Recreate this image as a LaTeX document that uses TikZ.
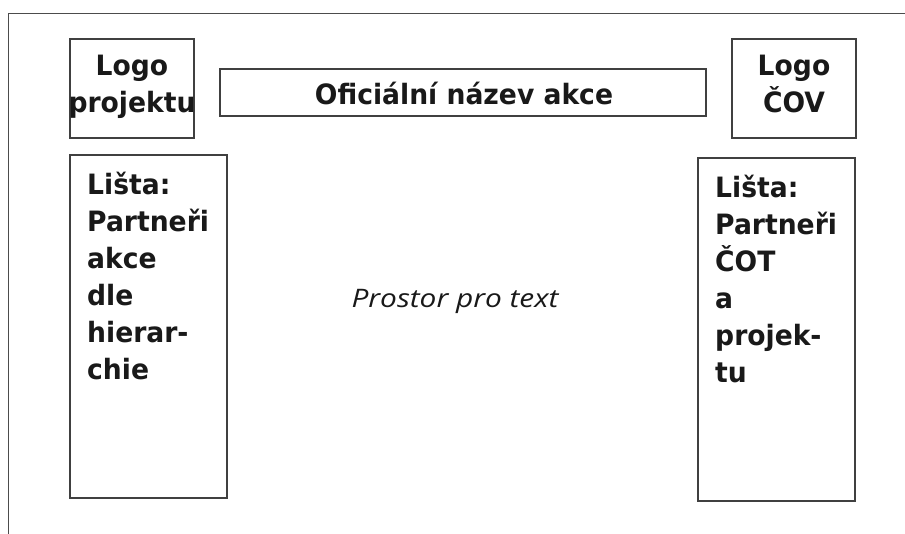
\documentclass[tikz,border=0pt]{standalone}
\usepackage{fontspec}
\setmainfont{Open Sans}
\newfontfamily\boxfont[FakeStretch=0.95]{DejaVu Sans Bold}
\newfontfamily\itfont[FakeStretch=1.17]{Open Sans Italic}
\begin{document}
\begin{tikzpicture}[x=1pt,y=-1pt,
  frame/.style={draw=black!75,line width=1.2pt},
  outer/.style={draw=black!70,line width=1pt},
  lbl/.style={inner sep=0pt,font=\boxfont\fontsize{28}{36}\selectfont,text=black!90},
  lblc/.style={lbl,anchor=base},
  lbll/.style={lbl,anchor=base west},
  itl/.style={inner sep=0pt,anchor=base,font=\itfont\fontsize{25.5}{30}\selectfont,text=black!90}]
\useasboundingbox (0,0) rectangle (905,534);
\fill[white] (0,0) rectangle (905,534);
% outer frame (only top and left visible)
\draw[outer] (8,534) -- (8,14) -- (905,14);
% boxes
\draw[frame] (70,39) rectangle (194,138);
\draw[frame] (220,69) rectangle (706,116);
\draw[frame] (732,39) rectangle (856,138);
\draw[frame] (70,155) rectangle (227,498);
\draw[frame] (698,158) rectangle (855,501);
% logo texts
\node[lblc] (lp1) at (132,76) {Logo};
\node[lblc] (lp2) at (132,113) {projektu};
\node[lblc] (lc1) at (794,76) {Logo};
\node[lblc] (lc2) at (794,113) {ČOV};
% title
\node[lblc] (title) at (464,105) {Oficiální název akce};
% bars
\foreach \t [count=\i from 0] in {Lišta:,Partneři,akce,dle,hierar-,chie}
  \node[lbll] (l\i) at (87,195+37*\i) {\t};
\foreach \t [count=\i from 0] in {Lišta:,Partneři,ČOT,a,projek-,tu}
  \node[lbll] (r\i) at (715,198+37*\i) {\t};
% centre
\node[itl] (space) at (455,308) {Prostor pro text};
\end{tikzpicture}
\end{document}
